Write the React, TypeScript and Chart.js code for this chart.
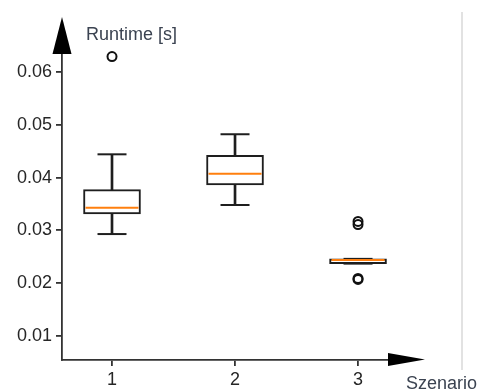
import React, { useEffect, useRef } from "react";
import { Chart, registerables } from "chart.js";

Chart.register(...registerables);

const categories = [1, 2, 3];
const categoryLabels = ["1", "2", "3"];
const whiskerLow = [0.0293, 0.0348, 0.0237];
const quartile1 = [0.0331, 0.0386, 0.0237];
const medians = [0.0343, 0.0407, 0.0244];
const quartile3 = [0.0377, 0.0442, 0.0246];
const whiskerHigh = [0.0444, 0.0482, 0.0246];
const outliers: number[][] = [[0.0629], [], [0.0317, 0.0311, 0.0209, 0.0207]];
const yTicks = [0.01, 0.02, 0.03, 0.04, 0.05, 0.06];
const yLabel = "Runtime [s]";
const xLabel = "Szenario";

const FONT = '"Liberation Sans", Arial, sans-serif';
const INK = "#1e1e1e";

const decor = {
  id: "decor",
  afterDraw(chart: any) {
    const { ctx, chartArea: a } = chart;
    ctx.save();
    // light frame line on the right
    ctx.strokeStyle = "#d9d9d9";
    ctx.lineWidth = 1.5;
    ctx.beginPath();
    ctx.moveTo(a.right + 56, 12);
    ctx.lineTo(a.right + 56, a.bottom + 10);
    ctx.stroke();
    // y arrow
    ctx.fillStyle = "#000";
    ctx.beginPath();
    ctx.moveTo(a.left, a.top - 18.5);
    ctx.lineTo(a.left + 9.5, a.top + 18.5);
    ctx.lineTo(a.left - 9.5, a.top + 18.5);
    ctx.closePath();
    ctx.fill();
    // x arrow
    ctx.beginPath();
    ctx.moveTo(a.right + 19, a.bottom - 0.5);
    ctx.lineTo(a.right - 18, a.bottom - 7);
    ctx.lineTo(a.right - 18, a.bottom + 6);
    ctx.closePath();
    ctx.fill();
    // axis titles
    ctx.font = "18px " + FONT;
    ctx.fillStyle = "#3b4351";
    ctx.textBaseline = "alphabetic";
    ctx.textAlign = "left";
    ctx.fillText(yLabel, a.left + 24, a.top + 4.5);
    ctx.fillText(xLabel, a.right, a.bottom + 29);
    ctx.restore();
  },
};

export default function App() {
  const ref = useRef<HTMLCanvasElement | null>(null);

  useEffect(() => {
    if (!ref.current) return;
    const boxData = categories.map((c, i) => ({ x: c, y: [quartile1[i], quartile3[i]] }));
    const whiskerData = categories.map((c, i) => ({ x: c, y: [whiskerLow[i], whiskerHigh[i]] }));
    const capData: { x: number; y: number }[] = [];
    categories.forEach((c, i) => {
      capData.push({ x: c, y: whiskerLow[i] });
      capData.push({ x: c, y: whiskerHigh[i] });
    });
    const medianData = categories.map((c, i) => ({ x: c, y: medians[i] }));
    const outlierData: { x: number; y: number }[] = [];
    categories.forEach((c, i) => outliers[i].forEach((v) => outlierData.push({ x: c, y: v })));

    const chart = new Chart(ref.current, {
      type: "bar",
      data: {
        datasets: [
          {
            type: "bar",
            data: whiskerData as any,
            backgroundColor: INK,
            borderWidth: 0,
            barThickness: 2,
            grouped: false,
            order: 4,
          } as any,
          {
            type: "bar",
            data: boxData as any,
            backgroundColor: "#ffffff",
            borderColor: INK,
            borderWidth: 2,
            borderSkipped: false,
            barThickness: 57,
            grouped: false,
            order: 3,
          } as any,
          {
            type: "scatter",
            data: capData,
            pointStyle: "line",
            pointRadius: 14.5,
            borderColor: INK,
            pointBorderWidth: 2,
            clip: false,
            order: 2,
          } as any,
          {
            type: "scatter",
            data: medianData,
            pointStyle: "line",
            pointRadius: 26.5,
            borderColor: "#ff7f0e",
            pointBorderWidth: 2,
            clip: false,
            order: 1,
          } as any,
          {
            type: "scatter",
            data: outlierData,
            pointStyle: "circle",
            pointRadius: 4.5,
            backgroundColor: "rgba(0,0,0,0)",
            borderColor: "#111",
            pointBorderWidth: 2,
            clip: false,
            order: 0,
          } as any,
        ],
      },
      options: {
        animation: false,
        responsive: false,
        events: [],
        layout: { padding: { top: 35.5, right: 93, left: 0, bottom: 0 } },
        plugins: { legend: { display: false }, tooltip: { enabled: false } },
        scales: {
          x: {
            type: "linear",
            min: 0.5935,
            max: 3.39,
            offset: false,
            afterBuildTicks: (s: any) => {
              s.ticks = categories.map((v) => ({ value: v }));
            },
            afterFit: (s: any) => {
              s.height = 31;
            },
            ticks: {
              callback: (v: any) => {
                const k = categories.indexOf(Number(v));
                return k >= 0 ? categoryLabels[k] : "";
              },
              font: { family: FONT, size: 18 },
              color: "#262626",
              padding: 3,
              autoSkip: false,
              maxRotation: 0,
            },
            grid: { offset: false, drawOnChartArea: false, drawTicks: true, tickLength: 6, color: "#333", lineWidth: 1.8 },
            border: { display: true, color: "#333", width: 1.8 },
          },
          y: {
            type: "linear",
            min: 0.00545,
            max: 0.0669,
            afterBuildTicks: (s: any) => {
              s.ticks = yTicks.map((v) => ({ value: v }));
            },
            afterFit: (s: any) => {
              s.width = 62;
            },
            ticks: {
              callback: (v: any) => Number(v).toFixed(2),
              font: { family: FONT, size: 18 },
              color: "#262626",
              padding: 4,
              autoSkip: false,
            },
            grid: { offset: false, drawOnChartArea: false, drawTicks: true, tickLength: 6, color: "#333", lineWidth: 1.8 },
            border: { display: true, color: "#333", width: 1.8 },
          },
        },
      } as any,
      plugins: [decor],
    });
    return () => chart.destroy();
  }, []);

  return (
    <div style={{ position: "absolute", left: 0, top: 0, width: 499, height: 391, background: "#fff" }}>
      <canvas ref={ref} width={499} height={391} style={{ width: 499, height: 391, display: "block" }} />
    </div>
  );
}
